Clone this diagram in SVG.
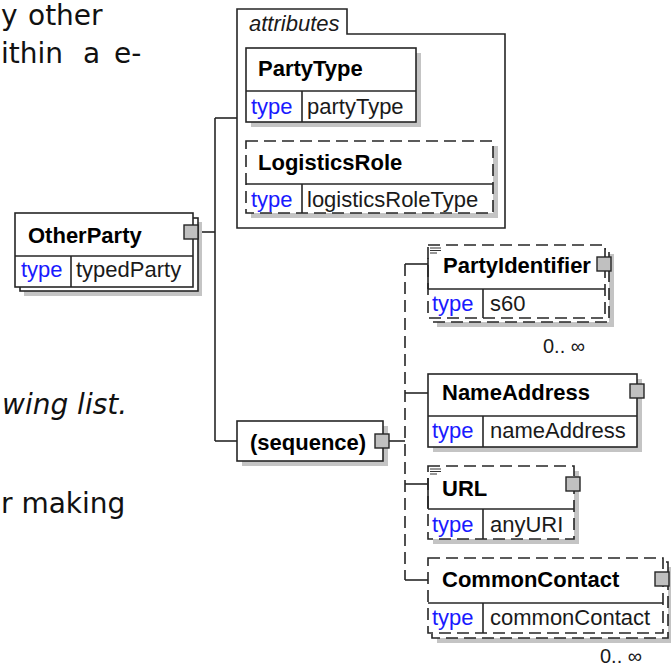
<svg xmlns="http://www.w3.org/2000/svg" width="671" height="668" viewBox="0 0 671 668">
<defs>
<style>
.bx{fill:#fff;stroke:#262626;stroke-width:1.6}
.ds{stroke-dasharray:12 6}
.sh{fill:#c4c4c4}
.ln{stroke:#262626;stroke-width:1.6;fill:none}
.ld{stroke:#262626;stroke-width:1.6;fill:none;stroke-dasharray:12 6}
.cb{fill:#c0c0c0;stroke:#262626;stroke-width:1.4}
.nm{font-family:"Liberation Sans",Arial,sans-serif;font-weight:bold;font-size:22px;fill:#000}
.ty{font-family:"Liberation Sans",Arial,sans-serif;font-size:22px;fill:#1a1aff}
.vl{font-family:"Liberation Sans",Arial,sans-serif;font-size:22px;fill:#1a1a1a}
.it{font-family:"Liberation Sans",Arial,sans-serif;font-style:italic;font-size:22px;fill:#1a1a1a}
.oc{font-family:"Liberation Sans",Arial,sans-serif;font-size:20px;fill:#1a1a1a}
.bg{font-family:"DejaVu Sans",Verdana,sans-serif;font-size:28px;fill:#111}
.doc{stroke:#333;stroke-width:1}
</style>
</defs>
<rect width="671" height="668" fill="#fff"/>

<g id="background-text">
<text class="bg" x="1" y="25">y</text>
<text class="bg" x="28" y="25">other</text>
<text class="bg" x="1" y="63">ithin</text>
<text class="bg" x="83" y="63">a</text>
<text class="bg" x="114" y="63">e-</text>
<text class="bg" x="2" y="414" font-style="italic">wing list.</text>
<text class="bg" x="1" y="513" font-size="26">r making</text>
</g>

<g id="connectors">
<line class="ln" x1="199" y1="232" x2="215" y2="232"/>
<line class="ln" x1="215" y1="118" x2="215" y2="441"/>
<line class="ln" x1="215" y1="118" x2="237" y2="118"/>
<line class="ln" x1="215" y1="441" x2="237" y2="441"/>
<line class="ln" x1="389" y1="441" x2="405" y2="441"/>
<line class="ld" x1="405" y1="264" x2="405" y2="580"/>
<line class="ln" x1="405" y1="264" x2="428" y2="264"/>
<line class="ln" x1="405" y1="393" x2="428" y2="393"/>
<line class="ln" x1="405" y1="484" x2="428" y2="484"/>
<line class="ln" x1="405" y1="580" x2="428" y2="580"/>
</g>

<g id="OtherParty">
<rect class="sh" x="24" y="222" width="178" height="74"/>
<rect class="bx" x="20" y="218" width="178" height="73"/>
<rect class="bx" x="15" y="213" width="178" height="74"/>
<line class="ln" x1="15" y1="256" x2="193" y2="256"/>
<line class="ln" x1="71" y1="256" x2="71" y2="287"/>
<text class="nm" x="28" y="243">OtherParty</text>
<text class="ty" x="21" y="277">type</text>
<text class="vl" x="76" y="277">typedParty</text>
<rect class="cb" x="184" y="225" width="14" height="14"/>
</g>

<g id="attributes">
<path class="bx" d="M237 9 H347 V34 H505 V228 H237 Z"/>
<text class="it" x="249" y="31">attributes</text>
</g>

<g id="PartyType">
<rect class="sh" x="251" y="53" width="170" height="74"/>
<rect class="bx" x="246" y="48" width="170" height="74"/>
<line class="ln" x1="246" y1="91" x2="416" y2="91"/>
<line class="ln" x1="302" y1="91" x2="302" y2="122"/>
<text class="nm" x="258" y="76">PartyType</text>
<text class="ty" x="251" y="114">type</text>
<text class="vl" x="307" y="114">partyType</text>
</g>

<g id="LogisticsRole">
<rect class="sh" x="251" y="146" width="247" height="72"/>
<rect class="bx ds" x="246" y="141" width="247" height="72"/>
<line class="ln" x1="246" y1="184" x2="493" y2="184"/>
<line class="ln" x1="302" y1="184" x2="302" y2="213"/>
<text class="nm" x="258" y="170">LogisticsRole</text>
<text class="ty" x="251" y="207">type</text>
<text class="vl" x="307" y="207">logisticsRoleType</text>
</g>

<g id="sequence">
<rect class="sh" x="242" y="426" width="146" height="40"/>
<rect class="bx" x="237" y="421" width="146" height="40"/>
<text class="nm" x="250" y="450">(sequence)</text>
<rect class="cb" x="375" y="434" width="14" height="14"/>
</g>

<g id="PartyIdentifier">
<rect class="sh" x="437" y="254" width="177" height="73"/>
<rect class="bx ds" x="432" y="249" width="177" height="73"/>
<rect class="bx ds" x="428" y="245" width="177" height="73"/>
<line class="ln" x1="428" y1="258" x2="428" y2="289"/>
<line class="ln" x1="428" y1="289" x2="605" y2="289"/>
<line class="ln" x1="483" y1="289" x2="483" y2="318"/>
<line class="doc" x1="430" y1="248" x2="441" y2="248"/>
<line class="doc" x1="430" y1="250.5" x2="441" y2="250.5"/>
<line class="doc" x1="430" y1="253" x2="437" y2="253"/>
<text class="nm" x="443" y="273">PartyIdentifier</text>
<text class="ty" x="432" y="311">type</text>
<text class="vl" x="490" y="311">s60</text>
<rect class="cb" x="597" y="257" width="14" height="14"/>
<text class="oc" x="543" y="353">0.. ∞</text>
</g>

<g id="NameAddress">
<rect class="sh" x="433" y="379" width="209" height="73"/>
<rect class="bx" x="428" y="374" width="209" height="73"/>
<line class="ln" x1="428" y1="416" x2="637" y2="416"/>
<line class="ln" x1="483" y1="416" x2="483" y2="447"/>
<text class="nm" x="442" y="400">NameAddress</text>
<text class="ty" x="432" y="438">type</text>
<text class="vl" x="490" y="438">nameAddress</text>
<rect class="cb" x="630" y="384" width="14" height="14"/>
</g>

<g id="URL">
<rect class="sh" x="433" y="471" width="146" height="73"/>
<rect class="bx ds" x="428" y="466" width="146" height="73"/>
<line class="ln" x1="428" y1="478" x2="428" y2="509"/>
<line class="ln" x1="428" y1="509" x2="574" y2="509"/>
<line class="ln" x1="483" y1="509" x2="483" y2="539"/>
<line class="doc" x1="430" y1="469" x2="441" y2="469"/>
<line class="doc" x1="430" y1="471.5" x2="441" y2="471.5"/>
<line class="doc" x1="430" y1="474" x2="437" y2="474"/>
<text class="nm" x="442" y="496">URL</text>
<text class="ty" x="432" y="532">type</text>
<text class="vl" x="490" y="532">anyURI</text>
<rect class="cb" x="566" y="477" width="14" height="14"/>
</g>

<g id="CommonContact">
<rect class="sh" x="437" y="567" width="236" height="76"/>
<rect class="bx ds" x="432" y="562" width="236" height="76"/>
<rect class="bx ds" x="428" y="558" width="235" height="75"/>
<line class="ln" x1="428" y1="603" x2="663" y2="603"/>
<line class="ln" x1="483" y1="603" x2="483" y2="633"/>
<text class="nm" x="442" y="587">CommonContact</text>
<text class="ty" x="432" y="625">type</text>
<text class="vl" x="490" y="625">commonContact</text>
<rect class="cb" x="655" y="572" width="14" height="14"/>
<text class="oc" x="600" y="663">0.. ∞</text>
</g>
</svg>
